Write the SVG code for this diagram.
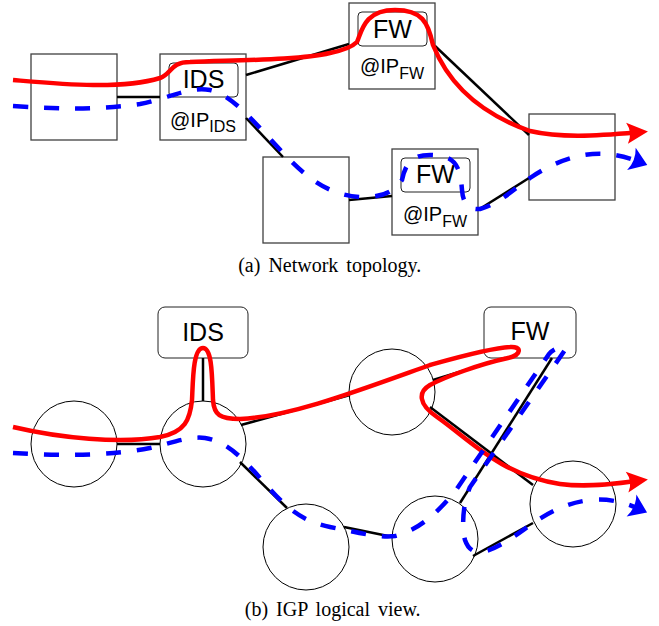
<svg xmlns="http://www.w3.org/2000/svg" width="659" height="626" viewBox="0 0 659 626">
<style>
.box{fill:#fff;stroke:#404040;stroke-width:1.3}
.inner{fill:none;stroke:#222;stroke-width:1}
.circ{fill:#fff;stroke:#000;stroke-width:1}
.link{stroke:#000;stroke-width:2.5;fill:none}
.red{fill:none;stroke:#f00;stroke-width:4.5;marker-end:url(#ar)}
.blue{fill:none;stroke:#00f;stroke-width:4.5;stroke-dasharray:15 16;marker-end:url(#ab)}
.lbl{font-family:"Liberation Sans",Arial,sans-serif;font-size:25px;text-anchor:middle;fill:#000}
.addr{font-family:"Liberation Sans",Arial,sans-serif;font-size:20px;text-anchor:middle;fill:#000}
.sub{font-size:16px}
.cap{font-family:"Liberation Serif","Times New Roman",serif;font-size:20px;word-spacing:3px;text-anchor:middle;fill:#000}
</style>
<defs>
<marker id="ar" markerUnits="userSpaceOnUse" markerWidth="30" markerHeight="30" refX="0" refY="0" orient="auto" overflow="visible"><path d="M12,0 L-9,-10.5 Q-3,0 -9,10.5 Z" fill="#f00"/></marker>
<marker id="ab" markerUnits="userSpaceOnUse" markerWidth="30" markerHeight="30" refX="0" refY="0" orient="auto" overflow="visible"><path d="M11,0 L-6,-12 Q-1,0 -6,12 Z" fill="#00f"/></marker>
</defs>

<!-- (a) Network topology -->
<g id="a-r1"><rect class="box" x="31" y="54" width="86" height="86"/></g>
<g id="a-ids"><rect class="box" x="160" y="54" width="86" height="86"/><rect class="inner" x="169" y="63" width="69" height="34" rx="4"/><text class="lbl" x="203.5" y="88">IDS</text><text class="addr" x="203" y="127">@IP<tspan class="sub" dy="5">IDS</tspan></text></g>
<g id="a-r3"><rect class="box" x="263" y="157" width="86" height="86"/></g>
<g id="a-fw1"><rect class="box" x="349" y="3" width="86" height="86"/><rect class="inner" x="358" y="12" width="69" height="34" rx="4"/><text class="lbl" x="392.5" y="38">FW</text><text class="addr" x="392" y="73">@IP<tspan class="sub" dy="6">FW</tspan></text></g>
<g id="a-fw2"><rect class="box" x="392" y="149" width="86" height="86"/><rect class="inner" x="401" y="158" width="69" height="34" rx="4"/><text class="lbl" x="435.5" y="183">FW</text><text class="addr" x="435" y="221">@IP<tspan class="sub" dy="6">FW</tspan></text></g>
<g id="a-r6"><rect class="box" x="529" y="114" width="86" height="86"/></g>

<!-- (b) IGP logical view -->
<g id="b-c1"><circle class="circ" cx="74" cy="444" r="43"/></g>
<g id="b-c2"><circle class="circ" cx="203" cy="444" r="43"/></g>
<g id="b-c3"><circle class="circ" cx="306" cy="547" r="43"/></g>
<g id="b-c4"><circle class="circ" cx="392" cy="392" r="43"/></g>
<g id="b-c5"><circle class="circ" cx="435" cy="539" r="43"/></g>
<g id="b-c6"><circle class="circ" cx="573" cy="504" r="43"/></g>
<g id="b-ids"><rect class="box" x="158" y="307" width="90" height="51" rx="7" style="stroke:#222;stroke-width:1"/><text class="lbl" x="203" y="341">IDS</text></g>
<g id="b-fw"><rect class="box" x="484" y="307" width="92" height="51" rx="7" style="stroke:#222;stroke-width:1"/><text class="lbl" x="530" y="340">FW</text></g>

<g id="connectors">
<line class="link" x1="117" y1="97" x2="160" y2="97"/>
<line class="link" x1="246" y1="75" x2="349" y2="44"/>
<line class="link" x1="246" y1="118" x2="283" y2="157"/>
<line class="link" x1="435" y1="46" x2="529" y2="135"/>
<line class="link" x1="349" y1="200" x2="392" y2="196"/>
<line class="link" x1="478" y1="210" x2="529" y2="178"/>

<line class="link" x1="117" y1="444" x2="160" y2="444"/>
<line class="link" x1="203" y1="358" x2="203" y2="401"/>
<line class="link" x1="240" y1="462" x2="287" y2="508"/>
<line class="link" x1="241" y1="425" x2="350" y2="395"/>
<line class="link" x1="433" y1="380" x2="505" y2="358"/>
<line class="link" x1="430" y1="407" x2="533" y2="485"/>
<line class="link" x1="552" y1="358" x2="460" y2="503"/>
<line class="link" x1="344" y1="527" x2="393" y2="537"/>
<line class="link" x1="473" y1="556" x2="533" y2="523"/>
</g>

<g id="flows">
<path class="red" d="M13,80 C60,84 120,90 160,78 C172,74 170,62 190,62 C240,60 300,60 330,53 C345,50 352,47 357,42 C362,30 365,10 395,10 C422,10 428,22 433,45 C445,75 470,110 530,131 C560,138 595,136 636,132.5"/>
<path class="blue" d="M13,106 C60,109 100,110 140,104 C170,98 190,86 210,90 C235,95 260,130 290,160 C310,180 330,195 360,197 C385,198 395,190 402,180 C406,160 415,155 430,155 C455,155 460,165 462,190 C463,203 468,210 480,209 C500,203 510,192 530,178 C560,158 595,145 637,161"/>
<path class="red" d="M13,427 C60,438 120,444 160,437 C185,432 190,420 192,400 C193,380 193,348 203,348 C212,348 212,375 213,400 C214,415 220,419 240,419 C290,417 360,390 430,365 C455,358 490,348 510,347 C522,346 522,355 508,358 C480,364 445,377 430,385 C418,392 418,404 437,417 C470,440 500,475 560,484 C590,488 620,483 636,481"/>
<path class="blue" d="M13,453 C60,456 110,456 150,448 C175,442 190,436 205,438 C225,441 240,455 260,478 C280,500 295,520 330,527 C360,533 380,538 395,536 C420,530 440,510 456,490 L549,354 C553,348 570,343 565,350 L470,487 C462,505 462,530 465,540 C470,555 482,555 500,545 C525,532 548,505 590,500 C612,498 628,504 637,508"/>
</g>

<text class="cap" x="329.7" y="272">(a) Network topology.</text>
<text class="cap" x="332.7" y="616">(b) IGP logical view.</text>
</svg>
